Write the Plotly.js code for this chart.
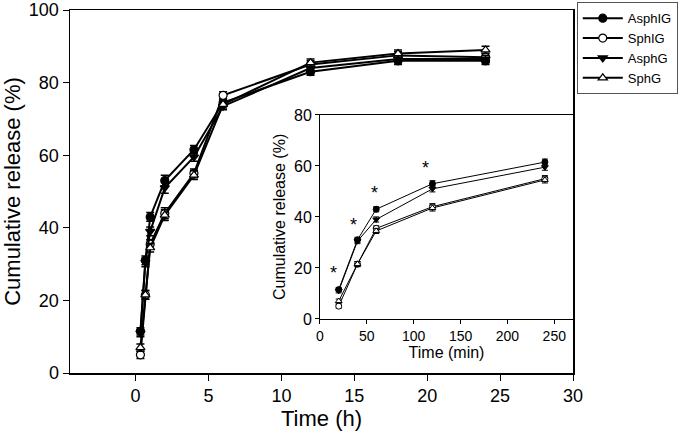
<!DOCTYPE html>
<html><head><meta charset="utf-8">
<script src="https://cdn.plot.ly/plotly-3.0.1.min.js"></script>
<style>html,body{margin:0;padding:0;background:#fff}#chart{width:685px;height:440px}</style>
</head><body><div id="chart"></div>
<script>
// Main chart: time in hours
const timeH = [0.33, 0.67, 1, 2, 4, 6, 12, 18, 24];
const asphIG = [11.5, 31, 43, 53, 61.5, 74.5, 83, 86, 86];
const sphIG  = [5, 21.5, 35.5, 44, 55, 76.5, 85, 87.5, 87];
const asphG  = [11, 30.5, 39, 51, 59.5, 73.5, 84, 86.5, 86.5];
const sphG   = [7, 21.5, 34.5, 43.5, 54.5, 74, 85.5, 88, 89];
const errMain = [1, 1.2, 1.2, 1.5, 1.2, 1, 1, 1, 1];
// Inset: first hours in minutes
const timeMin = [20, 40, 60, 120, 240];
const inAsphIG = [11.5, 31, 43, 53, 61.5];
const inSphIG  = [5, 21.5, 35.5, 44, 55];
const inAsphG  = [11, 30.5, 39, 51, 59.5];
const inSphG   = [7, 21.5, 34.5, 43.5, 54.5];
const errInset = [0.8, 1, 1, 1.2, 1.2];
// Significance markers
const starX = [14, 36, 58, 113];
const starY = [18, 37, 49.5, 59];
const seriesNames = ['AsphIG', 'SphIG', 'AsphG', 'SphG'];

const FONT = 'Liberation Sans, Arial, sans-serif';
const styles = [
  {symbol: 'circle', color: 'black'},
  {symbol: 'circle', color: 'white'},
  {symbol: 'triangle-down', color: 'black'},
  {symbol: 'triangle-up', color: 'white'}
];
const mainY = [asphIG, sphIG, asphG, sphG];
const inY = [inAsphIG, inSphIG, inAsphG, inSphG];
const traces = [];
mainY.forEach((ys, i) => {
  traces.push({
    x: timeH, y: ys, name: seriesNames[i], type: 'scatter', mode: 'lines+markers',
    line: {color: 'black', width: 2},
    marker: {symbol: styles[i].symbol, size: 8, color: styles[i].color, line: {color: 'black', width: 1.2}},
    error_y: {type: 'data', array: errMain, color: 'black', thickness: 1.5, width: 4},
    xaxis: 'x', yaxis: 'y'
  });
});
inY.forEach((ys, i) => {
  traces.push({
    x: timeMin, y: ys, name: seriesNames[i], type: 'scatter', mode: 'lines+markers', showlegend: false,
    line: {color: 'black', width: 1},
    marker: {symbol: styles[i].symbol, size: 6, color: styles[i].color, line: {color: 'black', width: 1}},
    error_y: {type: 'data', array: errInset, color: 'black', thickness: 1, width: 3},
    xaxis: 'x2', yaxis: 'y2'
  });
});

const annotations = starX.map((x, i) => ({
  x: x, y: starY[i], xref: 'x2', yref: 'y2', text: '*', showarrow: false,
  font: {family: FONT, size: 18, color: 'black'}
}));

const layout = {
  width: 685, height: 440,
  margin: {l: 70, r: 112, t: 10, b: 67},
  paper_bgcolor: 'white', plot_bgcolor: 'white',
  font: {family: FONT, color: 'black'},
  showlegend: true,
  legend: {xref: 'container', yref: 'container', x: 0.842, y: 0.995, xanchor: 'left', yanchor: 'top',
           bordercolor: '#555', borderwidth: 1,
           itemwidth: 40, font: {family: FONT, size: 13, color: 'black'}, bgcolor: 'white', tracegroupgap: 0},
  xaxis: {domain: [0, 1], range: [-4.5, 30], tickvals: [0, 5, 10, 15, 20, 25, 30],
          showgrid: false, zeroline: false, showline: true, linecolor: 'black', linewidth: 1.5, mirror: true,
          ticks: 'outside', ticklen: 6, tickcolor: 'black', tickfont: {size: 18},
          title: {text: 'Time (h)', font: {size: 22}, standoff: 0}},
  yaxis: {domain: [0, 1], range: [0, 100], tickvals: [0, 20, 40, 60, 80, 100],
          showgrid: false, zeroline: false, showline: true, linecolor: 'black', linewidth: 1.5, mirror: true,
          ticks: 'outside', ticklen: 6, tickcolor: 'black', tickfont: {size: 18},
          title: {text: 'Cumulative release (%)', font: {size: 22}, standoff: 8}},
  xaxis2: {domain: [0.497, 1], anchor: 'y2', range: [0, 270], tickvals: [0, 50, 100, 150, 200, 250],
           showgrid: false, zeroline: false, showline: true, linecolor: 'black', linewidth: 1, mirror: true,
           ticks: 'outside', ticklen: 4, tickcolor: 'black', tickfont: {size: 14},
           title: {text: 'Time (min)', font: {size: 16}, standoff: 4}},
  yaxis2: {domain: [0.149, 0.711], anchor: 'x2', range: [0, 80], tickvals: [0, 20, 40, 60, 80],
           showgrid: false, zeroline: false, showline: true, linecolor: 'black', linewidth: 1, mirror: true,
           ticks: 'outside', ticklen: 4, tickcolor: 'black', tickfont: {size: 16},
           title: {text: 'Cumulative release (%)', font: {size: 16}, standoff: 4}},
  annotations: annotations
};
Plotly.newPlot('chart', traces, layout, {staticPlot: true, displayModeBar: false});
</script></body></html>
